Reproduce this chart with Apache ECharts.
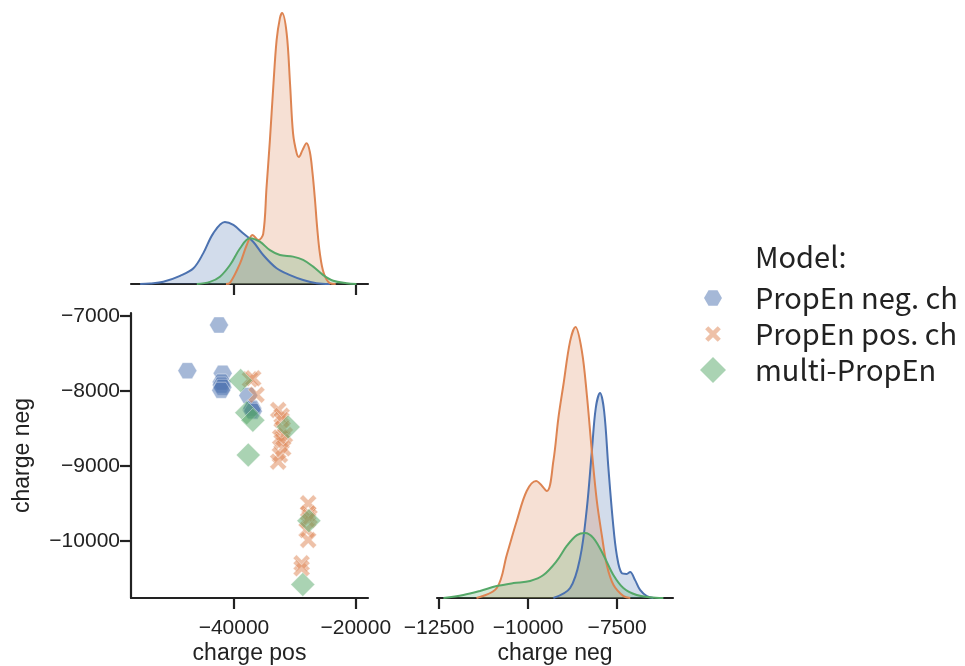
<!DOCTYPE html>
<html>
<head>
<meta charset="utf-8">
<script src="https://cdn.jsdelivr.net/npm/echarts@6.0.0/dist/echarts.min.js"></script>
<style>html,body{margin:0;padding:0;background:#fff}#c{width:965px;height:666px}</style>
</head>
<body>
<div id="c"></div>
<script>
// ---- data ----
const seriesNames = ['PropEn neg. ch', 'PropEn pos. ch', 'multi-PropEn'];
const legendTitle = 'Model:';
const xLabelPos = 'charge pos';
const yLabelNeg = 'charge neg';
const xLabelNeg = 'charge neg';

// scatter points: [charge pos, charge neg]
const scatterNegCh = [[-42460,-7120],[-47650,-7729],[-41850,-7764],[-42020,-7880],[-42020,-7920],[-41900,-7950],[-42100,-7990],[-37650,-8060],[-37100,-8253],[-37000,-8230],[-36900,-8270]];
const scatterPosCh = [[-37380,-7844],[-36840,-7831],[-36300,-8050],[-32740,-8253],[-32180,-8330],[-32180,-8387],[-32000,-8500],[-31640,-8587],[-32400,-8620],[-32180,-8676],[-31920,-8764],[-32460,-8853],[-32740,-8942],[-27820,-9497],[-27820,-9630],[-27600,-9680],[-27820,-9720],[-28080,-9853],[-27820,-9986],[-28900,-10297],[-28900,-10364]];
const scatterMulti = [[-38900,-7860],[-37900,-8290],[-36900,-8390],[-37650,-8853],[-31100,-8480],[-27700,-9730],[-28700,-10580]];

// KDE of charge pos (relative density)
const kdePosNegCh = [[-55400,0],[-53800,0.002],[-51600,0.008],[-48850,0.030],[-46650,0.058],[-45050,0.113],[-43400,0.187],[-41500,0.229],[-40100,0.218],[-38500,0.187],[-36850,0.156],[-35200,0.107],[-33000,0.058],[-30800,0.033],[-28650,0.015],[-26450,0.003],[-24250,0]];
const kdePosPosCh = [[-41300,0],[-40650,0.004],[-39000,0.076],[-37900,0.144],[-36950,0.181],[-36000,0.162],[-35200,0.185],[-34650,0.358],[-34100,0.531],[-33550,0.727],[-33000,0.900],[-32450,0.982],[-32100,1.0],[-31350,0.925],[-30800,0.741],[-30300,0.556],[-29700,0.482],[-29350,0.469],[-28750,0.494],[-28100,0.519],[-27550,0.488],[-27100,0.408],[-26700,0.310],[-26350,0.210],[-25900,0.113],[-25250,0.039],[-24250,0.003],[-23300,0]];
const kdePosMulti = [[-46100,0],[-43950,0.008],[-42300,0.027],[-40650,0.070],[-39000,0.132],[-37400,0.169],[-35750,0.156],[-34100,0.125],[-32450,0.107],[-30300,0.101],[-28650,0.089],[-27000,0.064],[-25350,0.033],[-23700,0.012],[-21500,0.003],[-19900,0]];

// KDE of charge neg (relative density)
const kdeNegNegCh = [[-9290,0],[-8820,0.037],[-8540,0.148],[-8350,0.332],[-8210,0.542],[-8100,0.701],[-7980,0.756],[-7865,0.690],[-7745,0.480],[-7620,0.284],[-7510,0.159],[-7370,0.092],[-7230,0.089],[-7135,0.096],[-6995,0.066],[-6855,0.030],[-6665,0.007],[-6480,0]];
const kdeNegPosCh = [[-11450,0],[-10880,0.037],[-10600,0.159],[-10320,0.284],[-10040,0.395],[-9775,0.432],[-9475,0.395],[-9290,0.506],[-9150,0.664],[-9010,0.786],[-8820,0.948],[-8670,1.0],[-8490,0.911],[-8350,0.749],[-8210,0.542],[-8070,0.358],[-7930,0.232],[-7790,0.122],[-7600,0.048],[-7320,0.007],[-7130,0]];
const kdeNegMulti = [[-12380,0],[-11820,0.011],[-11350,0.026],[-10880,0.044],[-10410,0.055],[-9945,0.063],[-9570,0.085],[-9195,0.137],[-8915,0.192],[-8630,0.232],[-8400,0.240],[-8165,0.221],[-7885,0.159],[-7605,0.085],[-7325,0.037],[-6950,0.011],[-6575,0.003],[-6200,0]];

// tick values
const ticksPos = [-40000, -20000];
const ticksNegY = [-10000, -9000, -8000, -7000];
const ticksNegX = [-12500, -10000, -7500];

// ---- style ----
const colors = ['#4C72B0', '#DD8452', '#55A868'];
const ink = '#222';
const tickFont = 'Liberation Sans, Arial, sans-serif';
const hexPath = 'path://M0,5L2.9,0L8.7,0L11.6,5L8.7,10L2.9,10Z';
const xPath = 'path://M2,0L5,3L8,0L10,2L7,5L10,8L8,10L5,7L2,10L0,8L3,5L0,2Z';
const hexLegend = 'path://M-2.6,-3.4L-2.6,-3.4M0,5L2.9,0L8.7,0L11.6,5L8.7,10L2.9,10ZM14.2,13.4L14.2,13.4';
const xLegend = 'path://M-3.3,-3.3L-3.3,-3.3M2,0L5,3L8,0L10,2L7,5L10,8L8,10L5,7L2,10L0,8L3,5L0,2ZM13.3,13.3L13.3,13.3';

const minus = v => String(v).replace('-', '\u2212');
function xAxisCfg(grid, min, max, ticks, showLabels, name) {
  return {
    type: 'value', gridIndex: grid, min: min, max: max,
    axisLine: { show: true, onZero: false, lineStyle: { color: ink, width: 2.2 } },
    axisTick: { show: true, customValues: ticks, length: 11, lineStyle: { color: ink, width: 2.2 } },
    axisLabel: { show: showLabels, customValues: ticks, formatter: minus, margin: 20,
      fontFamily: tickFont, fontSize: 21, color: ink },
    splitLine: { show: false },
    name: name || '', nameLocation: 'middle', nameGap: 44,
    nameTextStyle: { fontFamily: tickFont, fontSize: 23, color: ink }
  };
}
function kde(name, data, ci, xi) {
  return {
    type: 'line', name: name, data: data, xAxisIndex: xi, yAxisIndex: xi,
    smooth: 0.35, showSymbol: false, symbol: 'none', silent: true,
    lineStyle: { color: colors[ci], width: 2 },
    itemStyle: { color: colors[ci] },
    areaStyle: { color: colors[ci], opacity: 0.25 },
    z: 2
  };
}
function scat(name, data, ci, sym, size) {
  return {
    type: 'scatter', name: name, data: data, xAxisIndex: 1, yAxisIndex: 1,
    symbol: sym, symbolSize: size,
    itemStyle: { color: colors[ci], opacity: 0.5, borderColor: '#fff', borderWidth: 0.8 },
    z: 3
  };
}

const chart = echarts.init(document.getElementById('c'), null, { renderer: 'canvas' });
chart.setOption({
  animation: false,
  backgroundColor: '#fff',
  title: { text: legendTitle, left: 755, top: 242, padding: 0,
    textStyle: { fontFamily: 'Noto Sans CJK JP', fontSize: 29, fontWeight: 'normal', color: ink } },
  legend: {
    orient: 'vertical', left: 700, top: 283, padding: 0, itemWidth: 26, itemHeight: 26, itemGap: 6,
    selectedMode: false,
    textStyle: { fontFamily: 'Noto Sans CJK JP', fontSize: 29, color: ink, lineHeight: 30, padding: [0, 0, 0, 24] },
    data: [
      { name: seriesNames[0], icon: hexLegend, itemStyle: { color: colors[0], opacity: 0.5, borderWidth: 0 } },
      { name: seriesNames[1], icon: xLegend, itemStyle: { color: colors[1], opacity: 0.5, borderWidth: 0 } },
      { name: seriesNames[2], icon: 'diamond', itemStyle: { color: colors[2], opacity: 0.5, borderWidth: 0 } }
    ]
  },
  grid: [
    { left: 131, top: 13, width: 237, height: 271, outerBoundsMode: 'none', containLabel: false },
    { left: 131, top: 313, width: 237, height: 285, outerBoundsMode: 'none', containLabel: false },
    { left: 437, top: 327, width: 236, height: 271, outerBoundsMode: 'none', containLabel: false }
  ],
  xAxis: [
    xAxisCfg(0, -56900, -18000, ticksPos, false),
    xAxisCfg(1, -56900, -18000, ticksPos, true, xLabelPos),
    xAxisCfg(2, -12560, -5930, ticksNegX, true, xLabelNeg)
  ],
  yAxis: [
    { type: 'value', gridIndex: 0, min: 0, max: 1, show: false },
    { type: 'value', gridIndex: 1, min: -10760, max: -6960,
      axisLine: { show: true, onZero: false, lineStyle: { color: ink, width: 2.2 } },
      axisTick: { show: true, customValues: ticksNegY, length: 11, lineStyle: { color: ink, width: 2.2 } },
      axisLabel: { customValues: ticksNegY, formatter: minus, margin: 11, fontFamily: tickFont, fontSize: 21, color: ink },
      splitLine: { show: false },
      name: yLabelNeg, nameLocation: 'middle', nameGap: 97, nameRotate: 90,
      nameTextStyle: { fontFamily: tickFont, fontSize: 23, color: ink } },
    { type: 'value', gridIndex: 2, min: 0, max: 1, show: false }
  ],
  series: [
    scat(seriesNames[0], scatterNegCh, 0, hexPath, [19, 16]),
    scat(seriesNames[1], scatterPosCh, 1, xPath, 17),
    scat(seriesNames[2], scatterMulti, 2, 'diamond', 24),
    kde(seriesNames[0], kdePosNegCh, 0, 0),
    kde(seriesNames[1], kdePosPosCh, 1, 0),
    kde(seriesNames[2], kdePosMulti, 2, 0),
    kde(seriesNames[0], kdeNegNegCh, 0, 2),
    kde(seriesNames[1], kdeNegPosCh, 1, 2),
    kde(seriesNames[2], kdeNegMulti, 2, 2)
  ]
});
</script>
</body>
</html>
